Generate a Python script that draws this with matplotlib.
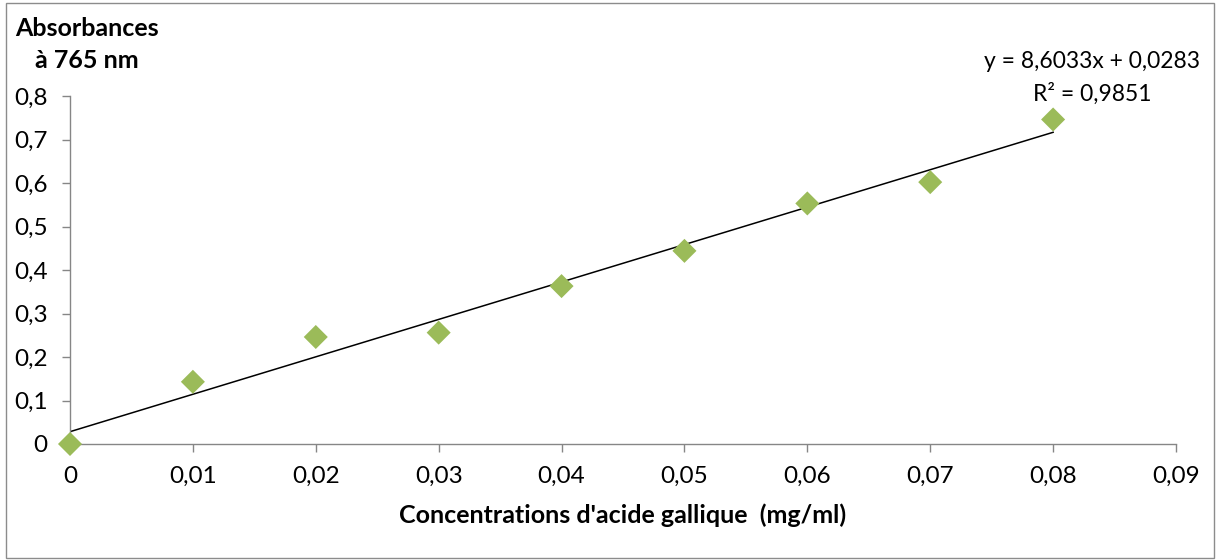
import matplotlib.pyplot as plt
from matplotlib.patches import Rectangle

# data
concentrations = [0, 0.01, 0.02, 0.03, 0.04, 0.05, 0.06, 0.07, 0.08]
absorbances = [0.0, 0.143, 0.246, 0.256, 0.363, 0.444, 0.553, 0.602, 0.746]
slope = 8.6033
intercept = 0.0283
r2 = 0.9851
xticks = [0, 0.01, 0.02, 0.03, 0.04, 0.05, 0.06, 0.07, 0.08, 0.09]
yticks = [0, 0.1, 0.2, 0.3, 0.4, 0.5, 0.6, 0.7, 0.8]

plt.rcParams['font.family'] = ['Lato', 'DejaVu Sans']

fig = plt.figure(figsize=(12.17, 5.60), dpi=100)
ax = fig.add_axes([70 / 1217, 1 - 444 / 560, (1176 - 70) / 1217, (444 - 96) / 560])

fig.patches.append(Rectangle((6 / 1217, 2 / 560), 1208 / 1217, 555 / 560,
                             transform=fig.transFigure, fill=False,
                             edgecolor='#8c8c8c', linewidth=1))

# trendline
xs = [concentrations[0], concentrations[-1]]
ax.plot(xs, [slope * x + intercept for x in xs], color='black', linewidth=1.1, zorder=2)

ax.scatter(concentrations, absorbances, marker='D', s=150, color='#9BBB59',
           edgecolors='none', zorder=3, clip_on=False)

ax.set_xlim(0, 0.09)
ax.set_ylim(0, 0.8)
ax.set_xticks(xticks)
ax.set_yticks(yticks)
ax.set_xticklabels([('%g' % v).replace('.', ',') for v in xticks])
ax.set_yticklabels([('%g' % v).replace('.', ',') for v in yticks])

for s in ['top', 'right']:
    ax.spines[s].set_visible(False)
for s in ['left', 'bottom']:
    ax.spines[s].set_color('#868686')
    ax.spines[s].set_linewidth(1)
ax.tick_params(axis='both', colors='#868686', labelcolor='black', labelsize=17.5,
               length=6, width=1, direction='out')
ax.tick_params(axis='x', pad=10)
ax.tick_params(axis='y', pad=10)

ax.set_xlabel("Concentrations d'acide gallique  (mg/ml)", fontsize=18,
              fontweight='bold', labelpad=12)
fig.text(15 / 1217, 1 - 28 / 560, 'Absorbances', fontsize=18, fontweight='bold',
         ha='left', va='center')
fig.text(35 / 1217, 1 - 60 / 560, 'à 765 nm', fontsize=18, fontweight='bold',
         ha='left', va='center')

eq = 'y = %s' % ('%.4fx + %.4f' % (slope, intercept)).replace('.', ',')
fig.text(1092 / 1217, 1 - 62 / 560, eq, fontsize=16.5, ha='center', va='center')
fig.text(1092 / 1217, 1 - 94 / 560, 'R² = %s' % ('%.4f' % r2).replace('.', ','),
         fontsize=16.5, ha='center', va='center')

fig.savefig('out.png', dpi=100)
